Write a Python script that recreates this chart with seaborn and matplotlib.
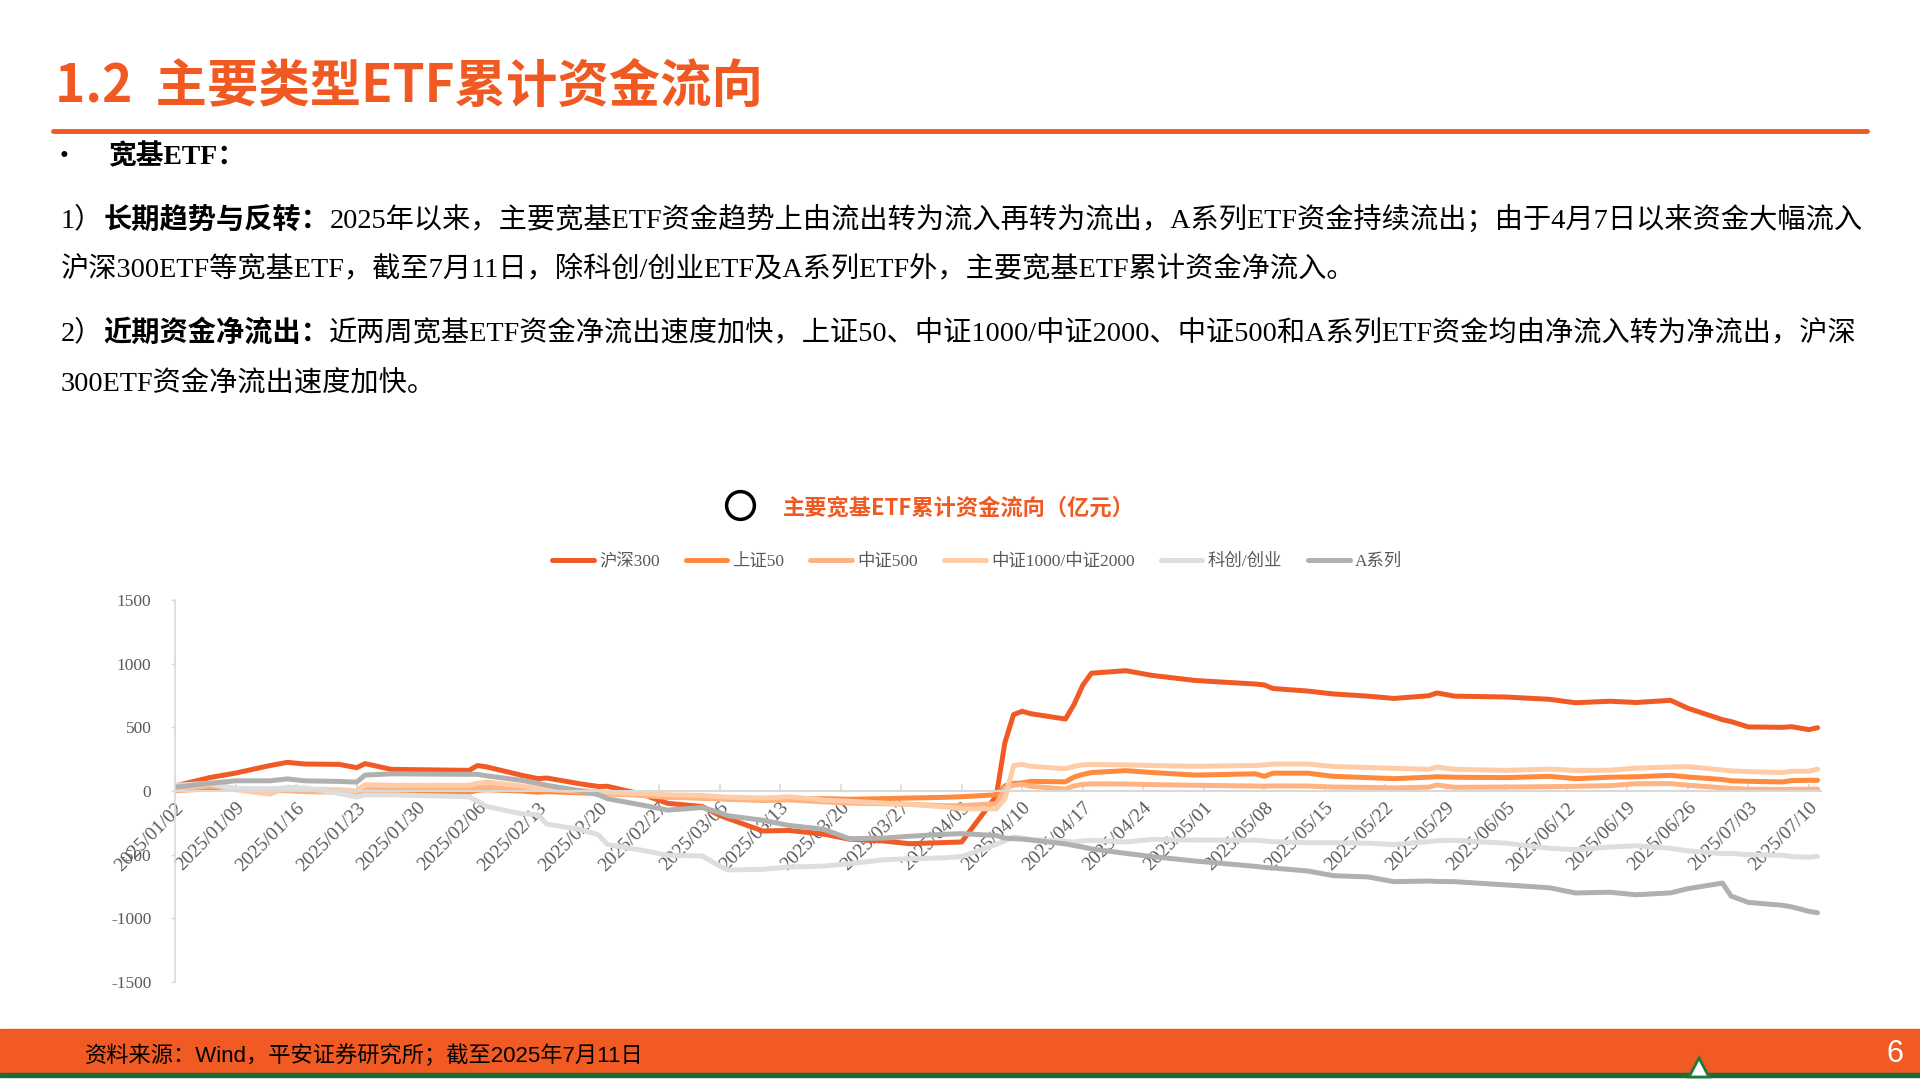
"""
Cumulative fund flows of the main broad-based ETFs (slide recreation).
"""

import matplotlib.pyplot as plt
import seaborn as sns
import pandas as pd
from matplotlib.lines import Line2D
from matplotlib.patches import Rectangle, Polygon
from matplotlib.text import Annotation

ORANGE = '#F05A22'
GRAY_TXT = '#595959'

# trading dates
dates = [
    '2025-01-02', '2025-01-06', '2025-01-09', '2025-01-13', '2025-01-15', '2025-01-17',
    '2025-01-21', '2025-01-23', '2025-01-24', '2025-01-27',
    '2025-02-05', '2025-02-06', '2025-02-07', '2025-02-11', '2025-02-13', '2025-02-14',
    '2025-02-18', '2025-02-20', '2025-02-21', '2025-02-25', '2025-02-28',
    '2025-03-04', '2025-03-06', '2025-03-07', '2025-03-11', '2025-03-14', '2025-03-18',
    '2025-03-21', '2025-03-25', '2025-03-28',
    '2025-04-01', '2025-04-03', '2025-04-07', '2025-04-08', '2025-04-09', '2025-04-10',
    '2025-04-11', '2025-04-15', '2025-04-16', '2025-04-17', '2025-04-18', '2025-04-22',
    '2025-04-25', '2025-04-30',
    '2025-05-07', '2025-05-08', '2025-05-09', '2025-05-13', '2025-05-16', '2025-05-20',
    '2025-05-23', '2025-05-27', '2025-05-28', '2025-05-30',
    '2025-06-05', '2025-06-10', '2025-06-13', '2025-06-17', '2025-06-20', '2025-06-24',
    '2025-06-26', '2025-06-30',
    '2025-07-01', '2025-07-03', '2025-07-07', '2025-07-08', '2025-07-10', '2025-07-11',
]

hs300 = [40, 105, 141, 200, 225, 212, 209, 183, 215, 170,
         162, 200, 190, 125, 97, 102, 55, 35, 37, -25, -97,
         -122, -191, -217, -314, -310, -338, -378, -393, -414,
         -405, -400, -40, 380, 600, 626, 607, 565, 680, 830, 925, 945, 908, 868,
         840, 833, 805, 785, 762, 745, 727, 748, 770, 745,
         738, 720, 693, 705, 695, 712, 650, 560,
         545, 503, 500, 505, 482, 497]

sz50 = [5, 15, 15, 5, 3, 0, -5, -10, -5, -10,
        -10, 5, 10, 0, -10, -5, -15, -20, -20, -30, -45,
        -55, -60, -62, -70, -65, -60, -65, -60, -55,
        -50, -45, -30, 40, 60, 63, 76, 72, 110, 130, 145, 160, 145, 125,
        135, 115, 140, 140, 115, 105, 97, 108, 112, 108,
        105, 115, 97, 108, 112, 123, 110, 90,
        80, 76, 71, 82, 84, 84]

zz500 = [10, 40, 20, 0, 5, -5, -10, -15, 10, 15,
         15, 25, 30, 20, 15, 10, -5, -15, -20, -35, -50,
         -55, -60, -65, -75, -70, -85, -95, -100, -105,
         -115, -115, -100, 20, 45, 52, 37, 15, 40, 52, 56, 55, 50, 45,
         39, 38, 40, 39, 31, 28, 24, 30, 47, 29,
         31, 34, 37, 42, 57, 58, 45, 25,
         20, 14, 12, 14, 14, 16]

zz1000 = [20, 55, 10, -25, 30, 15, 10, 0, 50, 45,
          45, 60, 70, 40, 20, 15, 5, -5, -10, -20, -30,
          -35, -45, -48, -55, -45, -70, -80, -95, -105,
          -125, -140, -140, -60, 200, 209, 194, 175, 195, 205, 209, 205, 200, 194,
          200, 205, 212, 212, 192, 185, 178, 170, 188, 170,
          162, 172, 162, 163, 180, 188, 192, 165,
          158, 152, 145, 155, 155, 172]

kc_cy = [45, 60, 20, 18, 24, 25, -20, -47, -30, -30,
         -45, -80, -120, -178, -185, -260, -304, -345, -420, -465, -505,
         -510, -590, -620, -615, -597, -590, -571, -540, -532,
         -525, -515, -420, -390, -360, -370, -382, -395, -400, -392, -388, -400, -380, -385,
         -387, -392, -398, -406, -406, -410, -421, -398, -390, -387,
         -410, -450, -461, -440, -430, -450, -470, -492,
         -490, -500, -505, -515, -520, -513]

a_series = [30, 60, 80, 80, 95, 80, 75, 70, 125, 135,
            131, 131, 120, 84, 60, 45, 0, -30, -60, -110, -150,
            -130, -170, -195, -230, -270, -300, -375, -370, -355,
            -340, -335, -350, -370, -375, -378, -385, -415, -428, -440, -455, -490, -515, -550,
            -592, -600, -605, -628, -665, -675, -712, -707, -710, -712,
            -738, -760, -801, -795, -815, -800, -767, -723,
            -825, -875, -898, -910, -945, -956]

series_names = ['沪深300', '上证50', '中证500', '中证1000/中证2000', '科创/创业', 'A系列']
series_colors = ['#F15A24', '#FF8A3D', '#FFB282', '#FFCCA8', '#DEDEDE', '#B0B0B0']

y_ticks = [-1500, -1000, -500, 0, 500, 1000, 1500]

para_lines = [
    [('1）', 'normal'), ('长期趋势与反转：', 'bold'),
     ('2025年以来，主要宽基ETF资金趋势上由流出转为流入再转为流出，A系列ETF资金持续流出；由于4月7日以来资金大幅流入', 'normal')],
    [('沪深300ETF等宽基ETF，截至7月11日，除科创/创业ETF及A系列ETF外，主要宽基ETF累计资金净流入。', 'normal')],
    [('2）', 'normal'), ('近期资金净流出：', 'bold'),
     ('近两周宽基ETF资金净流出速度加快，上证50、中证1000/中证2000、中证500和A系列ETF资金均由净流入转为净流出，沪深', 'normal')],
    [('300ETF资金净流出速度加快。', 'normal')],
]
para_y = [220, 269, 333, 384]

# long-form table for seaborn
df = pd.DataFrame({'date': pd.to_datetime(dates)})
for name, vals in zip(series_names, [hs300, sz50, zz500, zz1000, kc_cy, a_series]):
    df[name] = vals
long_df = df.melt(id_vars='date', var_name='series', value_name='value')

sns.set_theme(style='white')
plt.rcParams['font.family'] = ['Liberation Serif', 'Noto Sans CJK SC']
plt.rcParams['axes.unicode_minus'] = False

W, H = 1920, 1080
fig = plt.figure(figsize=(19.2, 10.8), dpi=100)


def fx(px):
    return px / W


def fy(py):
    return 1 - py / H


# header
fig.text(fx(55), fy(86), '1.2  主要类型ETF累计资金流向', fontsize=37, fontweight='bold',
         color=ORANGE, va='center', ha='left', family=['Noto Sans CJK SC'])
fig.add_artist(Line2D([fx(53), fx(1867)], [fy(131), fy(131)], color=ORANGE, lw=3.5,
                      transform=fig.transFigure))

fig.text(fx(60), fy(157), '•', fontsize=18, va='center', ha='left', color='black')
fig.text(fx(108), fy(157), '宽基ETF：', fontsize=20, fontweight='bold', va='center',
         ha='left', color='black')

for parts, py in zip(para_lines, para_y):
    prev = None
    for s, w in parts:
        if prev is None:
            prev = fig.text(fx(61), fy(py), s, fontsize=20.3, fontweight=w, va='center',
                            ha='left', color='black')
        else:
            ann = Annotation(s, xy=(1, 0), xycoords=prev, va='bottom', ha='left',
                             fontsize=20.3, fontweight=w, color='black')
            fig.add_artist(ann)
            prev = ann

# chart title with circle marker
fig.add_artist(Line2D([fx(740)], [fy(505)], marker='o', markersize=20, mfc='white',
                      mec='black', mew=2.5, transform=fig.transFigure))
fig.text(fx(783), fy(508), '主要宽基ETF累计资金流向（亿元）', fontsize=16, fontweight='bold',
         color=ORANGE, va='center', ha='left', family=['Noto Sans CJK SC'])

# chart
ax = fig.add_axes([fx(175), fy(982), fx(1821) - fx(175), fy(600) - fy(982)])
sns.lineplot(data=long_df, x='date', y='value', hue='series', hue_order=series_names,
             palette=series_colors, linewidth=3.6, ax=ax)

start = pd.Timestamp('2025-01-02')
ax.set_xlim(start, start + pd.Timedelta(days=190.4))
ax.set_ylim(-1500, 1500)
ax.set_yticks(y_ticks)
ax.set_yticklabels([str(v) for v in y_ticks])

x_ticks = pd.date_range('2025-01-02', '2025-07-10', freq='7D')
ax.set_xticks(x_ticks)
ax.set_xticklabels([d.strftime('%Y/%m/%d') for d in x_ticks])
ax.set_xlabel('')
ax.set_ylabel('')

for side in ['top', 'right']:
    ax.spines[side].set_visible(False)
ax.spines['bottom'].set_position(('data', 0))
ax.spines['bottom'].set_color('#D9D9D9')
ax.spines['bottom'].set_linewidth(1.5)
ax.spines['left'].set_color('#D9D9D9')
ax.spines['left'].set_linewidth(1.2)
ax.tick_params(axis='x', direction='in', length=5, width=1.2, color='#D9D9D9', pad=6,
               bottom=True, labelsize=14, labelcolor=GRAY_TXT, labelrotation=45)
ax.tick_params(axis='y', direction='out', length=3, width=1.0, color='#D9D9D9', pad=14,
               left=True, labelsize=12.5, labelcolor=GRAY_TXT)
for lab in ax.get_xticklabels():
    lab.set_horizontalalignment('right')
    lab.set_rotation_mode('anchor')
ax.grid(False)

handles, labels = ax.get_legend_handles_labels()
ax.get_legend().remove()
for h in handles:
    h.set_linewidth(3.6)
fig.legend(handles, labels, loc='center', bbox_to_anchor=(fx(977), fy(562)), ncol=6,
           frameon=False, fontsize=12.5, handlelength=2.4, columnspacing=1.5,
           handletextpad=0.3, labelcolor=GRAY_TXT)

# footer band
fig.add_artist(Rectangle((0, fy(1073)), 1, fy(1029) - fy(1073), color='#F15A22',
                         transform=fig.transFigure, zorder=0))
fig.add_artist(Rectangle((0, fy(1077)), 1, fy(1073) - fy(1077), color='#1E6B3A',
                         transform=fig.transFigure, zorder=0))
fig.add_artist(Polygon([(fx(1689), fy(1077)), (fx(1699), fy(1058)), (fx(1709), fy(1077))],
                       closed=True, facecolor='white', edgecolor='#1E7A3C', lw=2,
                       transform=fig.transFigure))
fig.text(fx(85), fy(1056), '资料来源：Wind，平安证券研究所；截至2025年7月11日', fontsize=16,
         color='black', va='center', ha='left',
         family=['Liberation Sans', 'Noto Sans CJK SC'])
fig.text(fx(1895), fy(1054), '6', fontsize=22, color='white', va='center', ha='center',
         family=['Liberation Sans'])

plt.savefig('out.png', dpi=100)
plt.close()
